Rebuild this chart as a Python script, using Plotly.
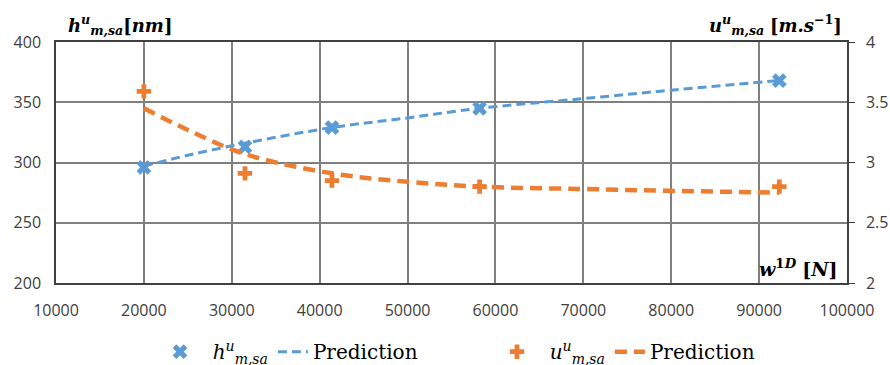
import plotly.graph_objects as go

# ---- data ----
w_meas = [20000, 31500, 41400, 58200, 92300]
h_meas = [296, 313, 329, 345, 368]
u_meas = [3.59, 2.91, 2.85, 2.80, 2.80]

w_pred = [20000, 25000, 31500, 41400, 50000, 58200, 70000, 80000, 92300]
h_pred = [297, 306, 316, 329, 337, 345, 353, 360, 368]
u_pred = [3.45, 3.27, 3.07, 2.91, 2.84, 2.80, 2.78, 2.765, 2.75]

x_ticks = [10000, 20000, 30000, 40000, 50000, 60000, 70000, 80000, 90000, 100000]

BLUE = "#5B9BD5"
ORANGE = "#ED7D31"
TICKFONT = dict(family="Open Sans", size=16, color="#404040")
SERIF = "DejaVu Serif"
LPAD = "&nbsp;" * 2

fig = go.Figure()

fig.add_trace(go.Scatter(
    x=w_meas, y=h_meas, mode="markers", yaxis="y",
    marker=dict(symbol="x", size=13, color=BLUE, line=dict(width=0)),
    name=LPAD + "<i>h</i><sup><i>u</i></sup><sub><i>m,sa</i></sub>", legend="legend"))
fig.add_trace(go.Scatter(
    x=w_pred, y=h_pred, mode="lines", yaxis="y", line_shape="spline",
    line=dict(color=BLUE, width=3, dash="9px,5px"),
    name="Prediction", legend="legend"))
fig.add_trace(go.Scatter(
    x=w_meas, y=u_meas, mode="markers", yaxis="y2",
    marker=dict(symbol="cross", size=12, color=ORANGE, line=dict(width=0)),
    name=LPAD + "<i>u</i><sup><i>u</i></sup><sub><i>m,sa</i></sub>", legend="legend2"))
fig.add_trace(go.Scatter(
    x=w_pred, y=u_pred, mode="lines", yaxis="y2", line_shape="spline",
    line=dict(color=ORANGE, width=4.5, dash="12px,7px"),
    name="Prediction", legend="legend2"))

fig.update_layout(
    width=890, height=365,
    margin=dict(l=56, r=43, t=42, b=82, autoexpand=False),
    paper_bgcolor="white", plot_bgcolor="white",
    showlegend=True,
    xaxis=dict(range=[10000, 100000], tickvals=x_ticks,
               ticktext=[str(v) for v in x_ticks],
               showgrid=True, gridcolor="#7f7f7f", gridwidth=1.5,
               showline=True, linecolor="#404040", linewidth=1.5, mirror=True,
               ticks="", tickfont=TICKFONT, ticklabelstandoff=12, zeroline=False),
    yaxis=dict(range=[200, 400], tickvals=[200, 250, 300, 350, 400],
               showgrid=True, gridcolor="#7f7f7f", gridwidth=1.5,
               showline=True, linecolor="#404040", linewidth=1.5,
               ticks="", tickfont=TICKFONT, ticklabelstandoff=10, zeroline=False),
    yaxis2=dict(range=[2, 4], tickvals=[2, 2.5, 3, 3.5, 4],
                ticktext=["2", "2.5", "3", "3.5", "4"],
                overlaying="y", side="right", showgrid=False,
                showline=True, linecolor="#404040", linewidth=1.5,
                ticks="outside", ticklen=6, tickcolor="#404040", tickwidth=1.2,
                tickfont=TICKFONT, ticklabelstandoff=8, zeroline=False),
    legend=dict(orientation="h", x=(160 - 56) / 791, xanchor="left",
                y=-0.285, yanchor="middle",
                font=dict(family=SERIF, size=20, color="black"),
                bgcolor="rgba(0,0,0,0)", itemwidth=30, tracegroupgap=0),
    legend2=dict(orientation="h", x=(497 - 56) / 791, xanchor="left",
                 y=-0.285, yanchor="middle",
                 font=dict(family=SERIF, size=20, color="black"),
                 bgcolor="rgba(0,0,0,0)", itemwidth=30, tracegroupgap=0),
    shapes=[dict(type="line", xref="paper", x0=0, x1=1, yref="y2", y0=3, y1=3,
                 line=dict(color="#202020", width=1), layer="below")],
    annotations=[
        dict(xref="paper", yref="paper", x=(66 - 56) / 791, y=1, xanchor="left",
             yanchor="bottom", yshift=2, showarrow=False,
             font=dict(family=SERIF, size=18, color="black"),
             text="<b><i>h</i></b><sup><b><i>u</i></b></sup><sub><b><i>m,sa</i></b></sub><b>[<i>nm</i>]</b>"),
        dict(xref="paper", yref="paper", x=(844 - 56) / 791, y=1, xanchor="right",
             yanchor="bottom", yshift=2, showarrow=False,
             font=dict(family=SERIF, size=18, color="black"),
             text="<b><i>u</i></b><sup><b><i>u</i></b></sup><sub><b><i>m,sa</i></b></sub> <b>[<i>m.s</i></b><sup><b>−1</b></sup><b>]</b>"),
        dict(xref="paper", yref="paper", x=(840 - 56) / 791, y=0, xanchor="right",
             yanchor="bottom", yshift=1, showarrow=False,
             font=dict(family=SERIF, size=19, color="black"),
             text="<b><i>w</i></b><sup><b>1<i>D</i></b></sup> <b>[<i>N</i>]</b>"),
    ],
)

fig.write_html("out.html", config={"displayModeBar": False},
               post_script="document.body.style.margin='0';document.body.style.overflow='hidden';")
